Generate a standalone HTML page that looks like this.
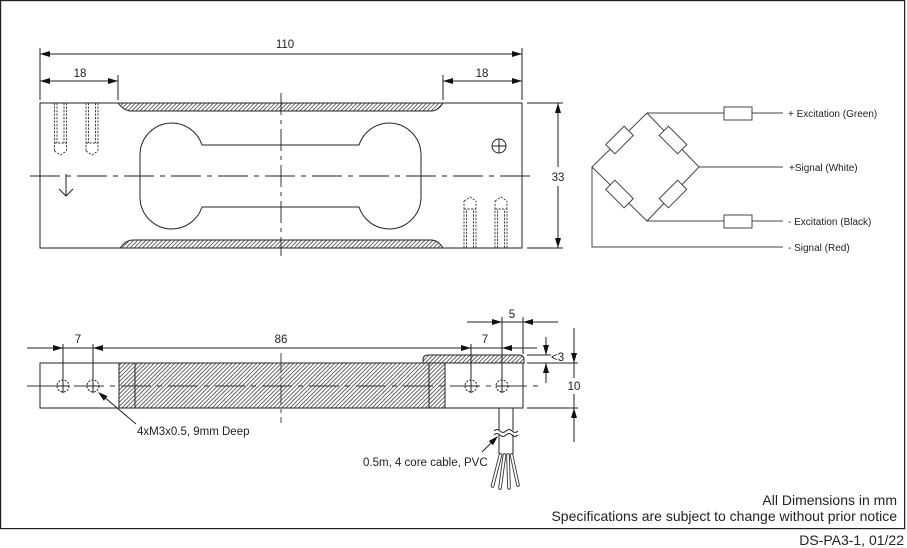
<!DOCTYPE html>
<html><head><meta charset="utf-8"><style>
html,body{margin:0;padding:0;background:#fff;}
svg{display:block;}
text{font-family:"Liberation Sans",Arial,sans-serif;fill:#222;}
</style></head><body>
<svg width="907" height="548" viewBox="0 0 907 548" xmlns="http://www.w3.org/2000/svg">
<defs>
<pattern id="h" width="2.9" height="10" patternUnits="userSpaceOnUse" patternTransform="rotate(45)">
<line x1="0.5" y1="0" x2="0.5" y2="10" stroke="#333" stroke-width="0.75"/>
</pattern>
</defs>
<rect x="0" y="0" width="907" height="548" fill="#fff"/>
<!-- frame -->
<rect x="0.6" y="0.6" width="904" height="528" fill="none" stroke="#222" stroke-width="1.2"/>

<g stroke="#222" stroke-width="1" fill="none">
<!-- TOP VIEW body -->
<rect x="40" y="103" width="482" height="145"/>
<!-- hatched strips -->
<path d="M118,103 L443,103 Q438,111 431,111 L131,111 Q124,111 118,103 Z" fill="url(#h)"/>
<path d="M120,248 L443,248 Q438,240 431,240 L133,240 Q126,240 120,248 Z" fill="url(#h)"/>
<!-- dogbone -->
<path d="M202,145 A32,32 0 0 0 172,123 A32,32 0 0 0 140,155 L140,197 A32,32 0 0 0 172,229 A32,32 0 0 0 202,207 L359,207 A32,32 0 0 0 389,229 A32,32 0 0 0 421,197 L421,155 A32,32 0 0 0 389,123 A32,32 0 0 0 359,145 Z"/>
<!-- center lines -->
<line x1="30" y1="176" x2="530" y2="176" stroke-dasharray="30 6 5 6" stroke-width="0.9"/>
<line x1="281" y1="93" x2="281" y2="256" stroke-dasharray="22 5 4 5" stroke-width="0.9"/>
<!-- down arrow -->
<line x1="66" y1="174" x2="66" y2="196"/>
<polyline points="59,189 66,196 73,189"/>
<!-- crosshair circle -->
<circle cx="499" cy="146" r="7"/>
<line x1="492" y1="146" x2="506" y2="146"/>
<line x1="499" y1="139" x2="499" y2="153"/>
</g>

<!-- hidden holes top view -->
<g stroke="#333" stroke-width="0.9" fill="none" stroke-dasharray="2.2 1.3">
<line x1="54.5" y1="103" x2="54.5" y2="151"/><line x1="66.5" y1="103" x2="66.5" y2="151"/>
<line x1="57" y1="103" x2="57" y2="143"/><line x1="64" y1="103" x2="64" y2="143"/>
<line x1="54.5" y1="143" x2="66.5" y2="143"/><polyline points="54.5,151 60.5,155 66.5,151"/>
<line x1="86" y1="103" x2="86" y2="151"/><line x1="98" y1="103" x2="98" y2="151"/>
<line x1="88.5" y1="103" x2="88.5" y2="143"/><line x1="95.5" y1="103" x2="95.5" y2="143"/>
<line x1="86" y1="143" x2="98" y2="143"/><polyline points="86,151 92,155 98,151"/>
<line x1="464" y1="248" x2="464" y2="201"/><line x1="476" y1="248" x2="476" y2="201"/>
<line x1="466.5" y1="248" x2="466.5" y2="209"/><line x1="473.5" y1="248" x2="473.5" y2="209"/>
<line x1="464" y1="209" x2="476" y2="209"/><polyline points="464,201 470,197 476,201"/>
<line x1="495" y1="248" x2="495" y2="201"/><line x1="507" y1="248" x2="507" y2="201"/>
<line x1="497.5" y1="248" x2="497.5" y2="209"/><line x1="504.5" y1="248" x2="504.5" y2="209"/>
<line x1="495" y1="209" x2="507" y2="209"/><polyline points="495,201 501,197 507,201"/>
</g>

<!-- top view dimensions -->
<g stroke="#222" stroke-width="1" fill="none">
<line x1="40" y1="48" x2="40" y2="100"/><line x1="522" y1="48" x2="522" y2="100"/>
<line x1="40" y1="54" x2="522" y2="54"/>
<line x1="118" y1="75" x2="118" y2="100"/><line x1="443" y1="75" x2="443" y2="100"/>
<line x1="40" y1="81" x2="118" y2="81"/><line x1="443" y1="81" x2="522" y2="81"/>
<line x1="527" y1="103" x2="563" y2="103"/><line x1="527" y1="248" x2="563" y2="248"/>
<line x1="558" y1="103" x2="558" y2="167"/><line x1="558" y1="186" x2="558" y2="248"/>
</g>
<g fill="#111">
<polygon points="40,54 50,51 50,57"/><polygon points="522,54 512,51 512,57"/>
<polygon points="40,81 50,78 50,84"/><polygon points="118,81 108,78 108,84"/>
<polygon points="443,81 453,78 453,84"/><polygon points="522,81 512,78 512,84"/>
<polygon points="558,103 555,113 561,113"/><polygon points="558,248 555,238 561,238"/>
</g>
<g font-size="11.5" text-anchor="middle">
<text x="285" y="48">110</text>
<text x="80" y="77">18</text>
<text x="482" y="77">18</text>
<text x="558" y="181">33</text>
</g>

<!-- WIRING DIAGRAM -->
<g stroke="#444" stroke-width="1" fill="none">
<polygon points="647,113 699,167 647,221 592,167"/>
<line x1="647" y1="113" x2="724" y2="113"/><line x1="752" y1="113" x2="783" y2="113"/>
<rect x="724" y="107" width="28" height="13" fill="#fff"/>
<line x1="699" y1="167" x2="783" y2="167"/>
<line x1="647" y1="221" x2="724" y2="221"/><line x1="752" y1="221" x2="783" y2="221"/>
<rect x="724" y="215" width="28" height="13" fill="#fff"/>
<polyline points="592,167 592,247 783,247"/>
<rect x="-13" y="-6.5" width="26" height="13" fill="#fff" transform="translate(619.5,140) rotate(-45)"/>
<rect x="-13" y="-6.5" width="26" height="13" fill="#fff" transform="translate(673,140) rotate(45)"/>
<rect x="-13" y="-6.5" width="26" height="13" fill="#fff" transform="translate(619.5,194) rotate(45)"/>
<rect x="-13" y="-6.5" width="26" height="13" fill="#fff" transform="translate(673,194) rotate(-45)"/>
</g>
<g font-size="10">
<text x="788" y="117">+ Excitation (Green)</text>
<text x="789" y="171">+Signal (White)</text>
<text x="788" y="225">- Excitation (Black)</text>
<text x="788" y="251">- Signal (Red)</text>
</g>

<!-- SIDE VIEW -->
<g stroke="#222" stroke-width="1" fill="none">
<path d="M423,363 L423,360 Q423,355 428,355 L519,355 Q524,355 524,360 L524,363 Z" fill="url(#h)"/>
<rect x="40" y="363" width="483" height="45"/>
<rect x="119" y="363" width="326" height="45" fill="url(#h)"/>
<line x1="135" y1="363" x2="135" y2="408"/>
<line x1="429" y1="363" x2="429" y2="408"/>
</g>
<g stroke="#333" stroke-width="0.9" fill="none">
<line x1="27" y1="386" x2="538" y2="386" stroke-dasharray="30 6 5 6"/>
<line x1="281" y1="353" x2="281" y2="423" stroke-dasharray="20 4 4 4"/>
</g>
<g stroke="#222" stroke-width="1" fill="#fff">
<circle cx="63" cy="386" r="6" stroke-dasharray="2 1.3"/>
<circle cx="93" cy="386" r="6" stroke-dasharray="2 1.3"/>
<circle cx="471" cy="386" r="6" stroke-dasharray="2 1.3"/>
<circle cx="502" cy="386" r="6" stroke-dasharray="2 1.3"/>
</g>
<g stroke="#222" stroke-width="1" fill="none">
<!-- extension lines -->
<line x1="63" y1="344" x2="63" y2="393"/>
<line x1="93" y1="344" x2="93" y2="393"/>
<line x1="471" y1="344" x2="471" y2="393"/>
<line x1="502" y1="317" x2="502" y2="393"/>
<line x1="523" y1="317" x2="523" y2="354"/>
<line x1="57" y1="386" x2="69" y2="386"/>
<line x1="87" y1="386" x2="99" y2="386"/>
<line x1="465" y1="386" x2="477" y2="386"/>
<line x1="496" y1="386" x2="508" y2="386"/>
<!-- dim lines -->
<line x1="27" y1="348" x2="537" y2="348"/>
<line x1="467" y1="322" x2="558" y2="322"/>
<line x1="527" y1="355" x2="551" y2="355"/>
<line x1="527" y1="363" x2="578" y2="363"/>
<line x1="527" y1="408" x2="578" y2="408"/>
<line x1="546" y1="337" x2="546" y2="355"/>
<line x1="546" y1="363" x2="546" y2="383"/>
<line x1="574" y1="328" x2="574" y2="378"/>
<line x1="574" y1="394" x2="574" y2="442"/>
<!-- leaders -->
<line x1="136" y1="424" x2="103" y2="396"/>
<line x1="482" y1="452" x2="493" y2="441"/>
<!-- cable -->
<line x1="499" y1="408" x2="499" y2="454"/>
<line x1="513" y1="408" x2="513" y2="454"/>
</g>
<rect x="496" y="430.5" width="20" height="4" fill="#fff"/>
<g stroke="#222" stroke-width="0.9" fill="none">
<path d="M494,431 q3,-3 6,0 t6,0 t6,0 t6,0"/>
<path d="M494,435 q3,-3 6,0 t6,0 t6,0 t6,0"/>
</g>
<g fill="none" stroke-linecap="round">
<g stroke="#333" stroke-width="3.6">
<path d="M500.5,455 L492.5,486"/><path d="M504.5,455 L500,488"/>
<path d="M508,455 L509,488"/><path d="M511.5,455 L518,485"/>
</g>
<g stroke="#fff" stroke-width="1.8">
<path d="M500.5,455 L492.5,486"/><path d="M504.5,455 L500,488"/>
<path d="M508,455 L509,488"/><path d="M511.5,455 L518,485"/>
</g>
</g>
<g fill="#111">
<polygon points="63,348 53,345 53,351"/><polygon points="93,348 103,345 103,351"/>
<polygon points="471,348 461,345 461,351"/><polygon points="502,348 512,345 512,351"/>
<polygon points="502,322 492,319 492,325"/><polygon points="523,322 533,319 533,325"/>
<polygon points="546,355 543,345 549,345"/><polygon points="546,363 543,373 549,373"/>
<polygon points="574,363 571,353 577,353"/><polygon points="574,408 571,418 577,418"/>
<polygon points="98,392 107.6,396.1 103.8,400.7"/>
<polygon points="498,436 493,445.2 488.8,441"/>
</g>
<g font-size="11.5" text-anchor="middle">
<text x="78" y="343">7</text>
<text x="281" y="343">86</text>
<text x="485" y="343">7</text>
<text x="512" y="318">5</text>
<text x="574" y="390">10</text>
</g>
<g font-size="11.5">
<text x="551" y="361">&lt;3</text>
<text x="137" y="435">4xM3x0.5, 9mm Deep</text>
<text x="363" y="466">0.5m, 4 core cable, PVC</text>
</g>

<!-- notes -->
<g font-size="14" text-anchor="end">
<text x="897" y="505">All Dimensions in mm</text>
<text x="897" y="521">Specifications are subject to change without prior notice</text>
<text x="904" y="545">DS-PA3-1, 01/22</text>
</g>
</svg>
</body></html>
